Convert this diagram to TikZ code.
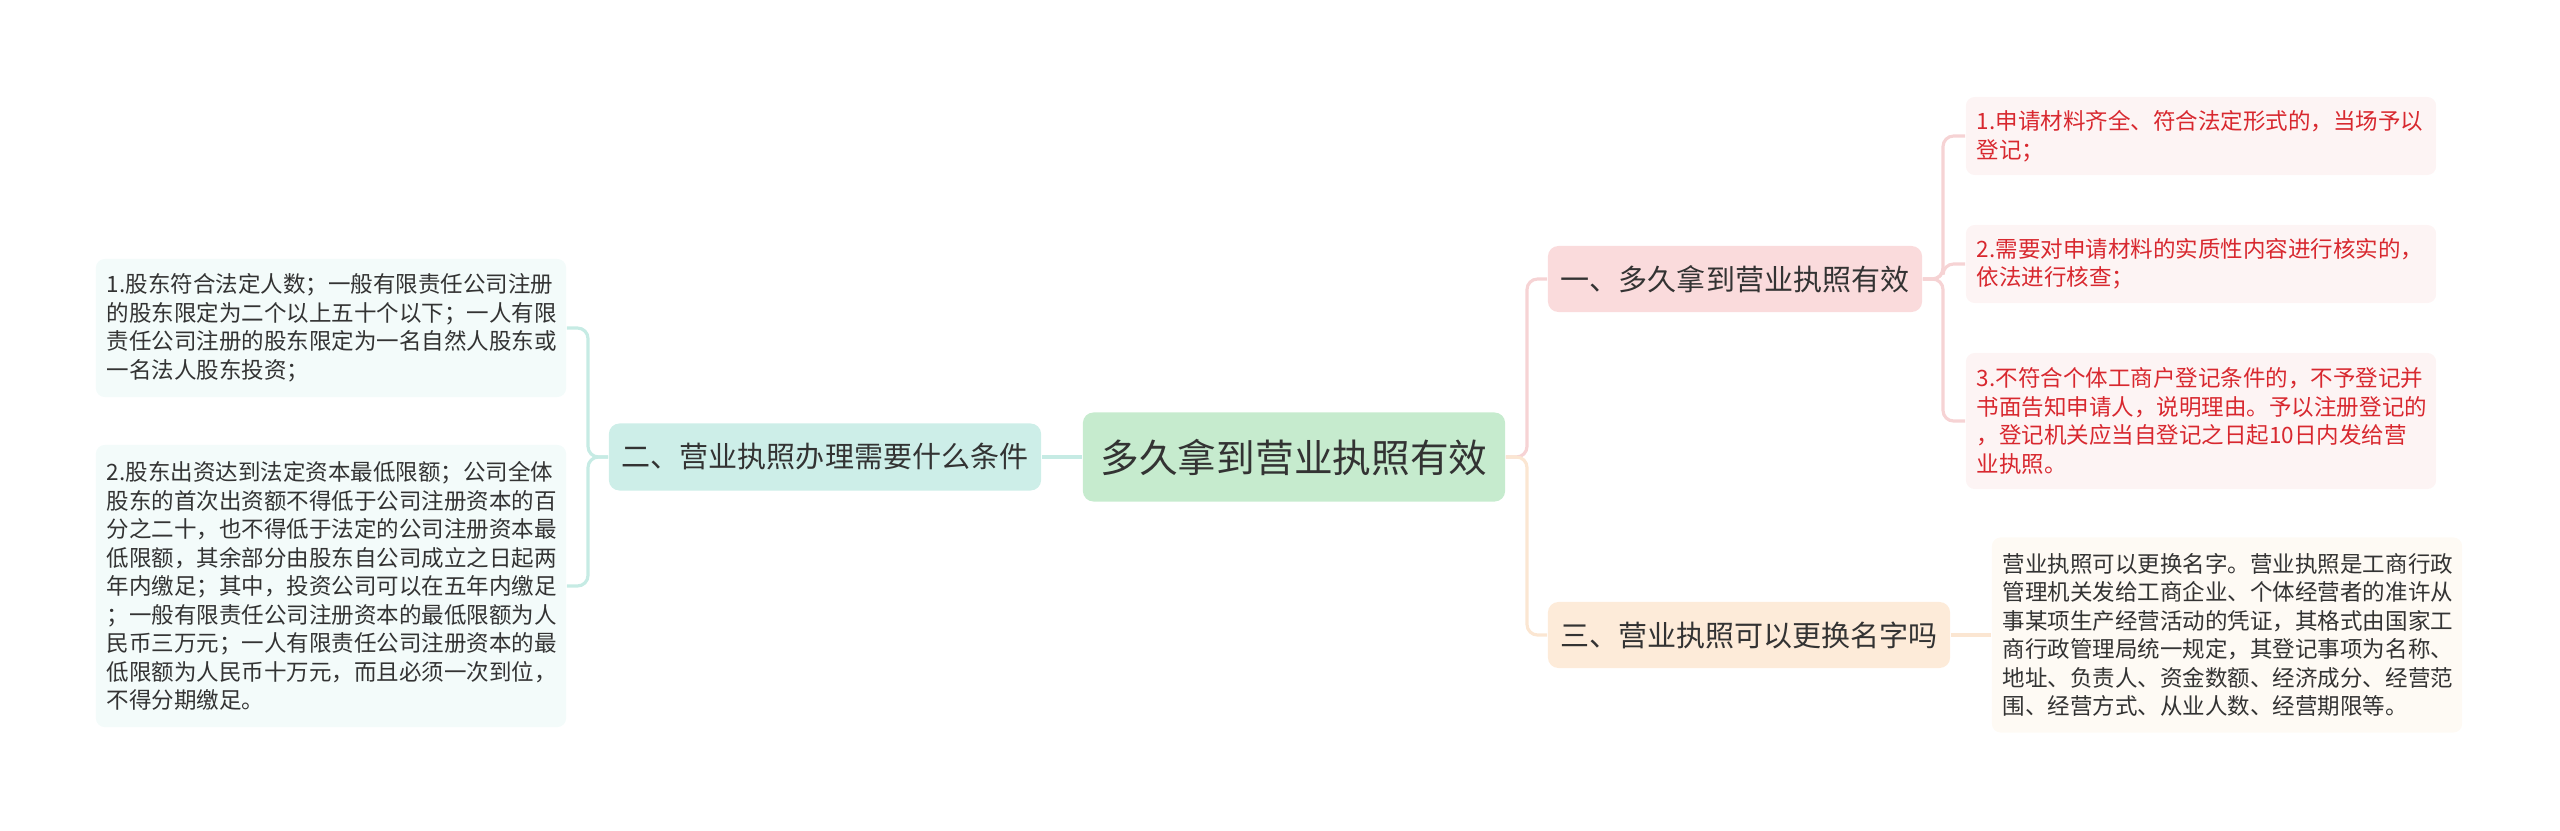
\documentclass[tikz,border=0pt]{standalone}
\usepackage{fontspec}
\setmainfont{Noto Sans CJK SC}
\usepackage{xcolor}
\usepackage{tikz}
\usetikzlibrary{positioning}

\definecolor{rootfill}{HTML}{C6EBCE}
\definecolor{pinkfill}{HTML}{FADBDC}
\definecolor{tealfill}{HTML}{CDEEE8}
\definecolor{peachfill}{HTML}{FDEBD9}
\definecolor{pinkleaf}{HTML}{FDF4F4}
\definecolor{tealleaf}{HTML}{F3FBFA}
\definecolor{peachleaf}{HTML}{FEFAF4}
\definecolor{pinkline}{HTML}{F6D3D4}
\definecolor{tealline}{HTML}{C6EBE4}
\definecolor{peachline}{HTML}{FBE6D2}
\definecolor{redtext}{HTML}{D8282F}
\definecolor{darktext}{HTML}{333333}

\begin{document}
\begin{tikzpicture}[x=0.01cm, y=-0.01cm,
  topic/.style={rounded corners=3pt, inner sep=0pt, align=center, text=darktext},
  leaf/.style={rounded corners=2.5pt, inner xsep=0.11cm, inner ysep=0pt,
    text width=4.48cm, align=left, text=darktext,
    font=\fontsize{6.4pt}{8.1pt}\selectfont},
  link/.style={line width=0.9pt, rounded corners=3pt}]
  \useasboundingbox (0,0) rectangle (2560,830);
  % centre and main branches
  \node[topic, fill=rootfill, minimum width=4.22cm, minimum height=0.89cm,
    font=\fontsize{11pt}{13pt}\selectfont] (root) at (1294,457) {多久拿到营业执照有效};
  \node[topic, fill=pinkfill, minimum width=3.74cm, minimum height=0.66cm,
    font=\fontsize{8.25pt}{10pt}\selectfont] (b1) at (1735,279) {一、多久拿到营业执照有效};
  \node[topic, fill=tealfill, minimum width=4.32cm, minimum height=0.67cm,
    font=\fontsize{8.25pt}{10pt}\selectfont] (b2) at (825,457) {二、营业执照办理需要什么条件};
  \node[topic, fill=peachfill, minimum width=4.02cm, minimum height=0.66cm,
    font=\fontsize{8.25pt}{10pt}\selectfont] (b3) at (1749,635) {三、营业执照可以更换名字吗};
  % leaves
  \node[leaf, fill=pinkleaf, text=redtext, minimum height=0.78cm] (l11) at (2201,136)
    {1.申请材料齐全、符合法定形式的，当场予以\\登记；};
  \node[leaf, fill=pinkleaf, text=redtext, minimum height=0.78cm] (l12) at (2201,264)
    {2.需要对申请材料的实质性内容进行核实的，\\依法进行核查；};
  \node[leaf, fill=pinkleaf, text=redtext, minimum height=1.36cm] (l13) at (2201,421)
    {3.不符合个体工商户登记条件的，不予登记并\\书面告知申请人，说明理由。予以注册登记的\\，登记机关应当自登记之日起10日内发给营\\业执照。};
  \node[leaf, fill=tealleaf, minimum height=1.38cm] (l21) at (331,328)
    {1.股东符合法定人数；一般有限责任公司注册\\的股东限定为二个以上五十个以下；一人有限\\责任公司注册的股东限定为一名自然人股东或\\一名法人股东投资；};
  \node[leaf, fill=tealleaf, minimum height=2.82cm] (l22) at (331,586)
    {2.股东出资达到法定资本最低限额；公司全体\\股东的首次出资额不得低于公司注册资本的百\\分之二十，也不得低于法定的公司注册资本最\\低限额，其余部分由股东自公司成立之日起两\\年内缴足；其中，投资公司可以在五年内缴足\\；一般有限责任公司注册资本的最低限额为人\\民币三万元；一人有限责任公司注册资本的最\\低限额为人民币十万元，而且必须一次到位，\\不得分期缴足。};
  \node[leaf, fill=peachleaf, minimum height=1.95cm] (l31) at (2227,635)
    {营业执照可以更换名字。营业执照是工商行政\\管理机关发给工商企业、个体经营者的准许从\\事某项生产经营活动的凭证，其格式由国家工\\商行政管理局统一规定，其登记事项为名称、\\地址、负责人、资金数额、经济成分、经营范\\围、经营方式、从业人数、经营期限等。};
  % junction points
  \coordinate (jroot) at (1527,457);
  \coordinate (jb1) at (1943,279);
  \coordinate (jb2) at (588,457);
  % connectors
  \draw[link, pinkline] (root.east) -- (jroot) |- (b1.west);
  \draw[link, peachline] (root.east) -- (jroot) |- (b3.west);
  \draw[link, tealline] (root.west) -- (b2.east);
  \draw[link, pinkline] (b1.east) -- (jb1) |- (l11.west);
  \draw[link, pinkline] (b1.east) -- (jb1) |- (l12.west);
  \draw[link, pinkline] (b1.east) -- (jb1) |- (l13.west);
  \draw[link, tealline] (b2.west) -- (jb2) |- (l21.east);
  \draw[link, tealline] (b2.west) -- (jb2) |- (l22.east);
  \draw[link, peachline] (b3.east) -- (l31.west);
\end{tikzpicture}
\end{document}
